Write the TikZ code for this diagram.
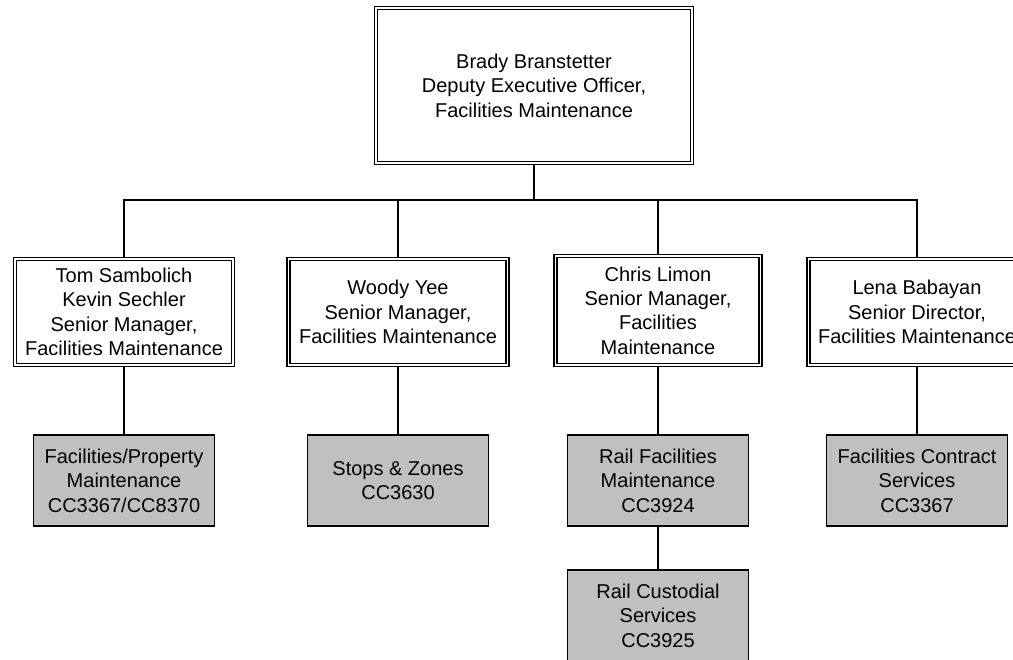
\documentclass[tikz,border=0pt]{standalone}
\usepackage{fontspec}
\setmainfont{Liberation Sans}
\usetikzlibrary{backgrounds}
\definecolor{boxgray}{RGB}{192,192,192}
\tikzset{
  x=1pt, y=1pt,
  every node/.style={font=\fontsize{20}{24.4}\selectfont, align=center, inner sep=0pt, outer sep=0pt},
  mgrbox/.style={draw, line width=1.4pt, double, double distance=1.6pt, fill=white, minimum height=106pt},
  unitbox/.style={draw, line width=1.6pt, fill=boxgray, minimum width=181pt, minimum height=91pt},
  link/.style={line width=1.7pt}
}
\begin{document}
\begin{tikzpicture}
\useasboundingbox (0,0) rectangle (1013,-660);
\clip (0,0) rectangle (1013,-660);
\node[mgrbox, minimum width=316pt, minimum height=155pt] (top) at (534,-85.5)
  {Brady Branstetter\\Deputy Executive Officer,\\Facilities Maintenance};
\node[mgrbox, minimum width=218pt] (m1) at (124,-312)
  {Tom Sambolich\\Kevin Sechler\\Senior Manager,\\Facilities Maintenance};
\node[mgrbox, minimum width=219pt] (m2) at (398,-312)
  {Woody Yee\\Senior Manager,\\Facilities Maintenance};
\node[mgrbox, minimum width=205pt, minimum height=109pt] (m3) at (658,-310.5)
  {Chris Limon\\Senior Manager,\\Facilities\\Maintenance};
\node[mgrbox, minimum width=217pt] (m4) at (917,-312)
  {Lena Babayan\\Senior Director,\\Facilities Maintenance};
\node[unitbox] (u1) at (124,-480.5) {Facilities/Property\\Maintenance\\CC3367/CC8370};
\node[unitbox] (u2) at (398,-480.5) {Stops \& Zones\\CC3630};
\node[unitbox] (u3) at (658,-480.5) {Rail Facilities\\Maintenance\\CC3924};
\node[unitbox] (u4) at (917,-480.5) {Facilities Contract\\Services\\CC3367};
\node[unitbox] (u5) at (658,-615.5) {Rail Custodial\\Services\\CC3925};
\begin{scope}[on background layer]
\coordinate (bus) at (top.south |- 0,-200);
\draw[link] (top.south) -- (bus);
\draw[link] (bus) -| (m1.north);
\draw[link] (bus) -| (m2.north);
\draw[link] (bus) -| (m3.north);
\draw[link] (bus) -| (m4.north);
\draw[link] (m1.south) -- (u1.north);
\draw[link] (m2.south) -- (u2.north);
\draw[link] (m3.south) -- (u3.north);
\draw[link] (m4.south) -- (u4.north);
\draw[link] (u3.south) -- (u5.north);
\end{scope}
\end{tikzpicture}
\end{document}
